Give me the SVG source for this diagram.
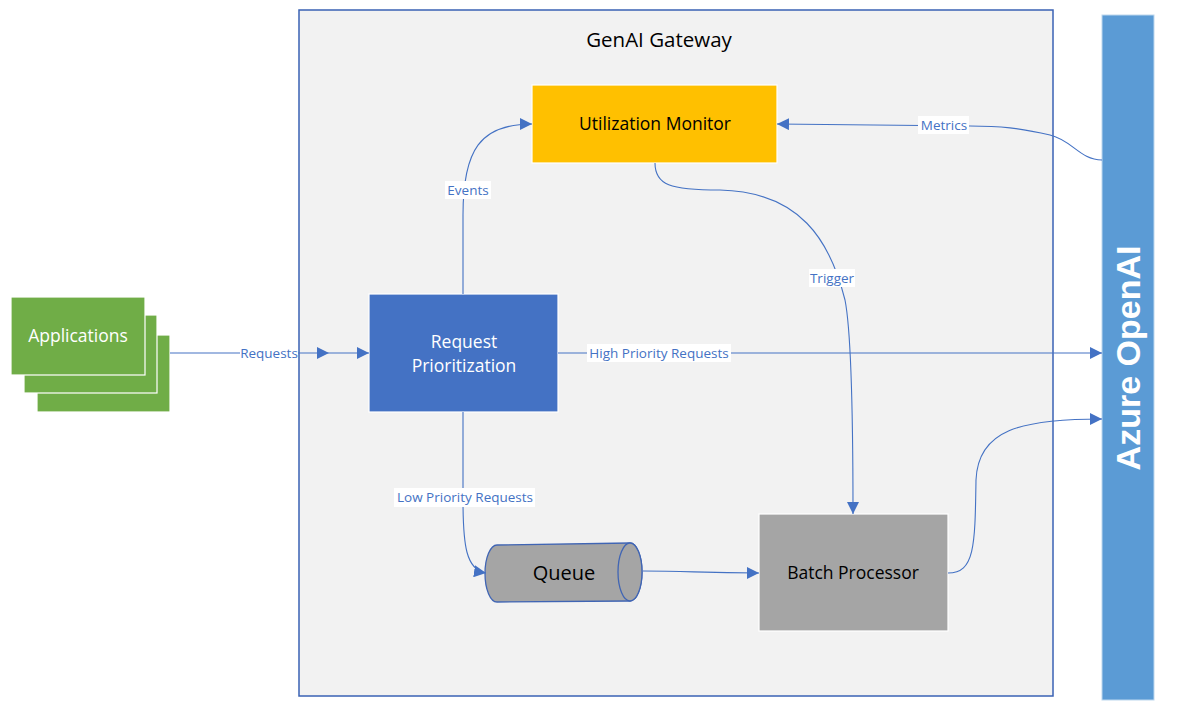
<svg xmlns="http://www.w3.org/2000/svg" width="1180" height="712" viewBox="0 0 1180 712">
<defs>
<style>
.c{fill:none;stroke:#4472c4;stroke-width:1.1}
.lbl{font-family:"Open Sans","Liberation Sans",sans-serif;font-size:13.5px;fill:#4472c4;text-anchor:middle}
.lb{fill:#ffffff}
.nt{font-family:"Open Sans","Liberation Sans",sans-serif;font-size:17.5px;text-anchor:middle}
</style>
<marker id="ah" viewBox="0 0 10 10" refX="10" refY="5" markerWidth="12" markerHeight="12" markerUnits="userSpaceOnUse" orient="auto">
<path d="M0,0 L10,5 L0,10 z" fill="#4472c4"/>
</marker>
</defs>
<rect width="1180" height="712" fill="#ffffff"/>
<g id="gateway">
<rect x="299" y="10" width="754" height="686" fill="#f2f2f2" stroke="#3a62b4" stroke-width="1.5"/>
<text x="659" y="47" class="nt" fill="#000000" style="font-size:20.5px">GenAI Gateway</text>
</g>
<g id="azure-openai">
<rect x="1102" y="15" width="52" height="685" fill="#5b9bd5" stroke="#bdd7ee" stroke-width="1"/>
<text x="0" y="0" transform="translate(1140,358) rotate(-90)" font-family="Liberation Sans, Arial, sans-serif" font-weight="bold" font-size="34" fill="#ffffff" text-anchor="middle">Azure OpenAI</text>
</g>
<g id="applications">
<rect x="37" y="335" width="133" height="77" fill="#70ad47" stroke="#ffffff" stroke-width="1.2"/>
<rect x="24" y="315" width="133" height="78" fill="#70ad47" stroke="#ffffff" stroke-width="1.2"/>
<rect x="11" y="297" width="134" height="78" fill="#70ad47" stroke="#ffffff" stroke-width="1.2"/>
<text x="78" y="342" class="nt" fill="#ffffff">Applications</text>
</g>
<g id="request-prioritization">
<rect x="369" y="294" width="189" height="118" fill="#4472c4" stroke="#ffffff" stroke-width="1.2"/>
<text x="464" y="348" class="nt" fill="#ffffff">Request</text>
<text x="464" y="372" class="nt" fill="#ffffff">Prioritization</text>
</g>
<g id="utilization-monitor">
<rect x="532" y="85" width="245" height="78" fill="#ffc000" stroke="#ffffff" stroke-width="1.2"/>
<text x="655" y="130" class="nt" fill="#000000">Utilization Monitor</text>
</g>
<g id="batch-processor">
<rect x="759" y="514" width="189" height="117" fill="#a5a5a5" stroke="#ffffff" stroke-width="1.2"/>
<text x="853" y="579" class="nt" fill="#000000">Batch Processor</text>
</g>
<g id="queue">
<path d="M497,545 L630,543 A12,29 0 0 1 630,601 L497,602 A12,28.5 0 0 1 497,545 z" fill="#a5a5a5" stroke="#4065b4" stroke-width="1.3"/>
<ellipse cx="630" cy="572" rx="12" ry="29" fill="#a5a5a5" stroke="#4065b4" stroke-width="1.3"/>
<text x="564" y="580" class="nt" fill="#000000" style="font-size:20px">Queue</text>
</g>
<g id="connectors">
<path class="c" d="M170,353 L329,353" marker-end="url(#ah)"/>
<path class="c" d="M329,353 L369,353" marker-end="url(#ah)"/>
<rect class="lb" x="240" y="344" width="58" height="18"/>
<text class="lbl" x="269" y="358">Requests</text>

<path class="c" d="M463,294 L463,215 C463,150 480,124 532,124" marker-end="url(#ah)"/>
<rect class="lb" x="445" y="181" width="46" height="18"/>
<text class="lbl" x="468" y="195">Events</text>

<path class="c" d="M1102,160 C1080,160 1072,140 1050,135 C1020,128 1000,126 970,126 L777,124" marker-end="url(#ah)"/>
<rect class="lb" x="918" y="116" width="51" height="18"/>
<text class="lbl" x="944" y="130">Metrics</text>

<path class="c" d="M655,163 C655,185 670,190 720,190 C800,192 830,240 845,300 C851,330 853,400 853,514" marker-end="url(#ah)"/>
<rect class="lb" x="809" y="269" width="46" height="18"/>
<text class="lbl" x="832" y="283">Trigger</text>

<path class="c" d="M558,353 L1102,353" marker-end="url(#ah)"/>
<rect class="lb" x="587" y="344" width="144" height="18"/>
<text class="lbl" x="659" y="358">High Priority Requests</text>

<path class="c" d="M463,412 L463,500 C463,545 466,570 486,573" marker-end="url(#ah)"/>
<rect class="lb" x="394" y="488" width="141" height="19"/>
<text class="lbl" x="465" y="502">Low Priority Requests</text>

<path class="c" d="M643,571 C690,571 700,573 759,573" marker-end="url(#ah)"/>

<path class="c" d="M948,573 C975,573 975,545 976,480 C978,430 1020,419 1102,419" marker-end="url(#ah)"/>
</g>
</svg>
